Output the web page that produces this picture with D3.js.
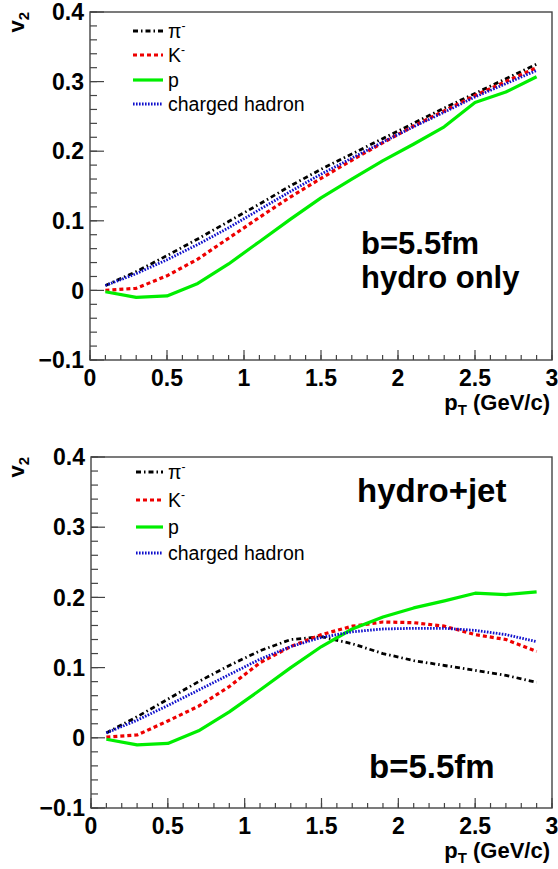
<!DOCTYPE html>
<html>
<head>
<meta charset="utf-8">
<script src="https://cdn.jsdelivr.net/npm/d3@7"></script>
<style>
  html, body { margin: 0; padding: 0; background: #fff; }
  svg { display: block; }
  text { font-family: "Liberation Sans", Arial, Helvetica, sans-serif; }
</style>
</head>
<body>
<script>
// transverse momentum grid (GeV/c)
const pT = [0.1, 0.3, 0.5, 0.7, 0.9, 1.1, 1.3, 1.5, 1.7, 1.9, 2.1, 2.3, 2.5, 2.7, 2.9];

// v2 for b = 5.5 fm, hydro only
const hydroPion    = [0.007, 0.027, 0.050, 0.074, 0.099, 0.124, 0.150, 0.174, 0.196, 0.218, 0.240, 0.262, 0.283, 0.304, 0.325];
const hydroKaon    = [0.000, 0.003, 0.021, 0.045, 0.075, 0.105, 0.134, 0.161, 0.187, 0.212, 0.236, 0.258, 0.280, 0.300, 0.320];
const hydroProton  = [-0.002, -0.010, -0.008, 0.010, 0.038, 0.070, 0.102, 0.133, 0.160, 0.186, 0.210, 0.235, 0.270, 0.285, 0.307];
const hydroCharged = [0.007, 0.024, 0.044, 0.066, 0.090, 0.116, 0.142, 0.167, 0.190, 0.213, 0.235, 0.256, 0.278, 0.297, 0.316];

// v2 for b = 5.5 fm, hydro + jet
const jetPion    = [0.007, 0.030, 0.055, 0.080, 0.103, 0.124, 0.140, 0.144, 0.134, 0.120, 0.110, 0.103, 0.096, 0.089, 0.079];
const jetKaon    = [0.001, 0.004, 0.024, 0.045, 0.073, 0.107, 0.130, 0.147, 0.159, 0.165, 0.164, 0.159, 0.147, 0.140, 0.123];
const jetProton  = [-0.002, -0.010, -0.008, 0.010, 0.037, 0.068, 0.100, 0.130, 0.155, 0.172, 0.185, 0.195, 0.206, 0.204, 0.208];
const jetCharged = [0.007, 0.025, 0.046, 0.068, 0.090, 0.112, 0.130, 0.143, 0.151, 0.155, 0.156, 0.156, 0.153, 0.147, 0.137];

const xTicks = [0, 0.5, 1, 1.5, 2, 2.5, 3];
const yTicks = [-0.1, 0, 0.1, 0.2, 0.3, 0.4];

// species styling
const species = [
  { label: "\u03c0", sup: "-", color: "#000000", dash: "5,3,1.5,3", width: 2.8 },
  { label: "K", sup: "-", color: "#ee0000", dash: "4,3", width: 3.2 },
  { label: "p", sup: null, color: "#00ee00", dash: null, width: 3.2 },
  { label: "charged hadron", sup: null, color: "#1010cc", dash: "1.6,1.4", width: 2.8 }
];

const W = 558, H = 869;
const svg = d3.select("body").append("svg").attr("width", W).attr("height", H);
svg.append("rect").attr("width", W).attr("height", H).attr("fill", "#fff");

const panels = [
  {
    frame: { left: 90, right: 552, top: 12, bottom: 360 },
    series: [hydroPion, hydroKaon, hydroProton, hydroCharged],
    legend: { x0: 133, x1: 163, rows: [31, 55, 80, 104] },
    notes: [
      { text: "b=5.5fm", x: 361, y: 254, size: 31 },
      { text: "hydro only", x: 361, y: 288, size: 31 }
    ]
  },
  {
    frame: { left: 91, right: 552, top: 457, bottom: 808 },
    series: [jetPion, jetKaon, jetProton, jetCharged],
    legend: { x0: 136, x1: 163, rows: [472, 500, 527, 553] },
    notes: [
      { text: "hydro+jet", x: 357, y: 502, size: 33 },
      { text: "b=5.5fm", x: 369, y: 778, size: 33 }
    ]
  }
];

panels.forEach(p => {
  const f = p.frame;
  const x = d3.scaleLinear().domain([0, 3]).range([f.left, f.right]);
  const y = d3.scaleLinear().domain([-0.1, 0.4]).range([f.bottom, f.top]);
  const g = svg.append("g");

  // y axis: minor ticks every 0.02, major every 0.1, pointing inward
  const yMinor = d3.range(-0.1, 0.4001, 0.02);
  g.append("g").selectAll("line").data(yMinor).join("line")
    .attr("x1", f.left).attr("x2", f.left + 7)
    .attr("y1", d => y(d)).attr("y2", d => y(d))
    .attr("stroke", "#444").attr("stroke-width", 1.2);
  g.append("g").selectAll("line").data(yTicks).join("line")
    .attr("x1", f.left).attr("x2", f.left + 14)
    .attr("y1", d => y(d)).attr("y2", d => y(d))
    .attr("stroke", "#444").attr("stroke-width", 1.2);

  // x axis: minor ticks every 0.1, major every 0.5, pointing up
  const xMinor = d3.range(0, 3.0001, 0.1);
  g.append("g").selectAll("line").data(xMinor).join("line")
    .attr("x1", d => x(d)).attr("x2", d => x(d))
    .attr("y1", f.bottom).attr("y2", f.bottom - 5)
    .attr("stroke", "#444").attr("stroke-width", 1.2);
  g.append("g").selectAll("line").data(xTicks).join("line")
    .attr("x1", d => x(d)).attr("x2", d => x(d))
    .attr("y1", f.bottom).attr("y2", f.bottom - 10)
    .attr("stroke", "#444").attr("stroke-width", 1.2);

  // frame
  g.append("rect")
    .attr("x", f.left).attr("y", f.top)
    .attr("width", f.right - f.left).attr("height", f.bottom - f.top)
    .attr("fill", "none").attr("stroke", "#444").attr("stroke-width", 1.4);

  // tick labels
  g.append("g").selectAll("text").data(yTicks).join("text")
    .attr("x", f.left - 6).attr("y", d => y(d))
    .attr("dy", "0.36em").attr("text-anchor", "end")
    .attr("font-size", 23).attr("font-weight", "bold")
    .text(d => d3.format("")(+d.toFixed(1)));
  g.append("g").selectAll("text").data(xTicks).join("text")
    .attr("x", d => x(d)).attr("y", f.bottom + 26)
    .attr("text-anchor", "middle")
    .attr("font-size", 23).attr("font-weight", "bold")
    .text(d => d3.format("")(d));

  // axis titles
  const xt = g.append("text")
    .attr("x", f.right - 2).attr("y", f.bottom + 50)
    .attr("text-anchor", "end").attr("font-size", 22).attr("font-weight", "bold");
  xt.append("tspan").text("p");
  xt.append("tspan").attr("font-size", 15).attr("dy", 5).text("T");
  xt.append("tspan").attr("dy", -5).text(" (GeV/c)");

  const yt = g.append("text")
    .attr("transform", `translate(${24},${f.top}) rotate(-90)`)
    .attr("text-anchor", "end").attr("font-size", 22).attr("font-weight", "bold");
  yt.append("tspan").text("v");
  yt.append("tspan").attr("font-size", 15).attr("dy", 5).text("2");

  // curves
  const line = d3.line().x((d, i) => x(pT[i])).y(d => y(d));
  p.series.forEach((vals, k) => {
    const s = species[k];
    g.append("path").datum(vals)
      .attr("d", line)
      .attr("fill", "none")
      .attr("stroke", s.color)
      .attr("stroke-width", s.width)
      .attr("stroke-dasharray", s.dash)
      .attr("stroke-linejoin", "round");
  });

  // legend
  species.forEach((s, k) => {
    const ry = p.legend.rows[k];
    g.append("line")
      .attr("x1", p.legend.x0).attr("x2", p.legend.x1)
      .attr("y1", ry).attr("y2", ry)
      .attr("stroke", s.color).attr("stroke-width", s.width)
      .attr("stroke-dasharray", s.dash);
    const t = g.append("text")
      .attr("x", 168).attr("y", ry).attr("dy", "0.36em")
      .attr("font-size", 19.5);
    t.append("tspan").text(s.label);
    if (s.sup) t.append("tspan").attr("font-size", 12).attr("dy", -8).text(s.sup);
  });

  // annotations
  p.notes.forEach(n => {
    g.append("text").attr("x", n.x).attr("y", n.y)
      .attr("font-size", n.size).attr("font-weight", "bold").text(n.text);
  });
});
</script>
</body>
</html>
